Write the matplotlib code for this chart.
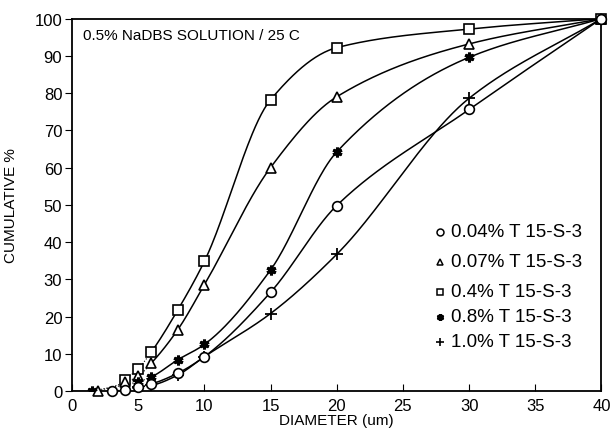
import numpy as np
import matplotlib
matplotlib.use("Agg")
import matplotlib.pyplot as plt

plt.rcParams['font.family'] = ['Liberation Sans', 'DejaVu Sans']

# data (diameter in um, cumulative %)
x_c004 = [3, 4, 5, 6, 8, 10, 15, 20, 30, 40]
y_c004 = [0, 0.4, 1.1, 1.9, 4.8, 9.2, 26.5, 49.8, 75.6, 100]

x_c007 = [2, 4, 5, 6, 8, 10, 15, 20, 30, 40]
y_c007 = [0, 2.3, 4.0, 7.5, 16.5, 28.5, 60.0, 79.0, 93.2, 100]

x_c04 = [4, 5, 6, 8, 10, 15, 20, 30, 40]
y_c04 = [3.0, 6.0, 10.5, 21.8, 34.8, 78.2, 92.2, 97.2, 100]

x_c08 = [1.5, 5, 6, 8, 10, 15, 20, 30, 40]
y_c08 = [0, 2.5, 3.8, 8.4, 12.5, 32.5, 64.2, 89.6, 100]

x_c10 = [5, 6, 8, 10, 15, 20, 30, 40]
y_c10 = [1.0, 1.5, 4.3, 9.2, 20.8, 36.7, 78.6, 100]

labels = ['0.04% T 15-S-3', '0.07% T 15-S-3', '0.4% T 15-S-3',
          '0.8% T 15-S-3', '1.0% T 15-S-3']


def pchip(x, y, xs):
    # monotone cubic hermite, only used to draw the smooth curve
    x = np.asarray(x, float)
    y = np.asarray(y, float)
    h = np.diff(x)
    d = np.diff(y) / h
    m = np.zeros_like(y)
    for k in range(1, len(x) - 1):
        if d[k - 1] * d[k] > 0:
            w1 = 2 * h[k] + h[k - 1]
            w2 = h[k] + 2 * h[k - 1]
            m[k] = (w1 + w2) / (w1 / d[k - 1] + w2 / d[k])
    m[0] = d[0]
    m[-1] = d[-1]
    idx = np.clip(np.searchsorted(x, xs) - 1, 0, len(x) - 2)
    t = (xs - x[idx]) / h[idx]
    h00 = 2 * t**3 - 3 * t**2 + 1
    h10 = t**3 - 2 * t**2 + t
    h01 = -2 * t**3 + 3 * t**2
    h11 = t**3 - t**2
    return (h00 * y[idx] + h10 * h[idx] * m[idx] + h01 * y[idx + 1]
            + h11 * h[idx] * m[idx + 1])


fig = plt.figure(figsize=(6.10, 4.31), dpi=100)
ax = fig.add_axes([0.118, 0.0905, 0.868, 0.864])

series = [
    (x_c04, y_c04, 's', 7),
    (x_c007, y_c007, '^', 7),
    (x_c08, y_c08, (6, 2, 0), 7),
    (x_c10, y_c10, '+', 8),
    (x_c004, y_c004, 'o', 7),
]

for xs_, ys_, mk, ms in series:
    xa = np.asarray(xs_, float)
    ya = np.asarray(ys_, float)
    # solid curve from 6 um, dotted below
    xx = np.linspace(6, 40, 300)
    ax.plot(xx, pchip(xa, ya, xx), color='black', lw=1.1, zorder=2)
    if xa[0] < 6:
        xl = np.linspace(xa[0], 6, 40)
        ax.plot(xl, pchip(xa, ya, xl), color='black', lw=0.8, ls=':', zorder=2)
    if mk == '+':
        ax.plot(xa, ya, ls='none', marker=mk, ms=ms, mew=1.3, color='black', zorder=3)
    elif isinstance(mk, tuple):
        ax.plot(xa, ya, ls='none', marker=mk, ms=ms, mew=2.2, color='black', zorder=3)
    else:
        ax.plot(xa, ya, ls='none', marker=mk, ms=ms, mew=1.2, mfc='white',
                mec='black', zorder=3, clip_on=False)

ax.plot([0, 1.5], [0, 0], color='black', lw=1.0)

# legend drawn as text rows
legend_markers = ['o', '^', 's', (6, 2, 0), '+']
legend_y = [42.7, 34.7, 26.6, 19.9, 13.2]
for mk, lab, ly in zip(legend_markers, labels, legend_y):
    if mk == '+':
        ax.plot(27.8, ly, marker=mk, ms=6, mew=1.2, color='black', clip_on=False)
    elif isinstance(mk, tuple):
        ax.plot(27.8, ly, marker=mk, ms=5, mew=1.8, color='black', clip_on=False)
    else:
        ax.plot(27.8, ly, marker=mk, ms=5, mew=1.1, mfc='white', mec='black', clip_on=False)
    ax.text(28.6, ly, lab, fontsize=13.5, va='center', ha='left')

ax.text(0.8, 95.5, '0.5% NaDBS SOLUTION / 25 C', fontsize=11, va='center', ha='left')

ax.set_xlim(0, 40)
ax.set_ylim(0, 100)
ax.set_xticks(np.arange(0, 41, 5))
ax.set_yticks(np.arange(0, 101, 10))
ax.tick_params(axis='x', direction='in', length=5, labelsize=12, pad=5)
ax.tick_params(axis='y', direction='out', length=5, labelsize=12, pad=2)
for s in ax.spines.values():
    s.set_linewidth(1.3)

ax.set_xlabel('DIAMETER (um)', fontsize=11, labelpad=0)
ax.set_ylabel('CUMULATIVE %', fontsize=11, labelpad=12)

fig.savefig('out.png', dpi=100)
